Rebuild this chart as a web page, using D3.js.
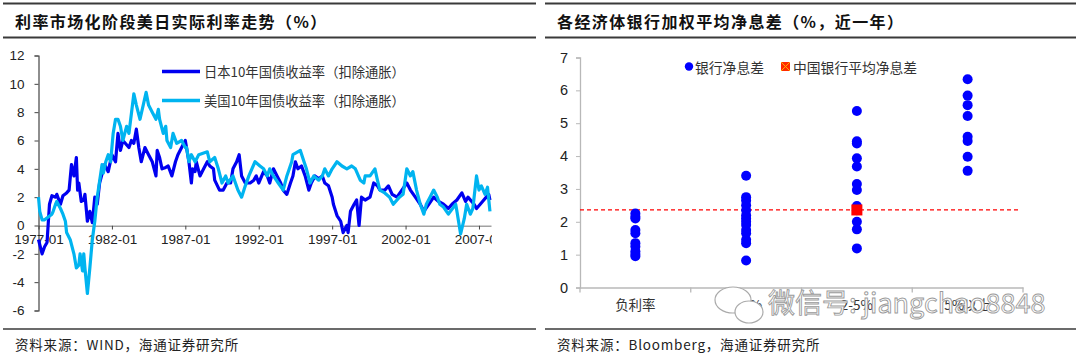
<!DOCTYPE html>
<html><head><meta charset="utf-8">
<script src="https://cdn.jsdelivr.net/npm/d3@7"></script>
<style>
body{margin:0;background:#fff;}
svg{display:block;}
</style>
</head><body>
<svg id="chart" width="1080" height="358"></svg>
<script>
// ---------- Left chart data ----------
const leftTitle = "利率市场化阶段美日实际利率走势（%）";
const leftSource = "资料来源：WIND，海通证券研究所";
const seriesNames = ["日本10年国债收益率（扣除通胀）", "美国10年国债收益率（扣除通胀）"];
const yTicksLeft = [-6,-4,-2,0,2,4,6,8,10,12];
const xTickLabels = ["1977-01","1982-01","1987-01","1992-01","1997-01","2002-01","2007-01"];

const jpDates = ["1977-01","1977-04","1977-06","1977-08","1977-10","1977-12","1978-03","1978-04","1978-07","1978-09","1978-12","1979-02","1979-04","1979-06","1979-08","1979-09","1979-10","1979-12","1980-02","1980-03","1980-05","1980-07","1980-09","1980-11","1981-01","1981-03","1981-07","1981-10","1982-01","1982-04","1982-06","1982-08","1982-10","1983-03","1983-05","1983-07","1983-09","1983-11","1984-01","1984-04","1984-07","1984-10","1985-01","1985-02","1985-04","1985-06","1985-09","1985-11","1986-02","1986-05","1986-07","1986-10","1987-01","1987-04","1987-06","1987-07","1987-09","1987-10","1988-01","1988-04","1988-07","1988-09","1988-12","1989-01","1989-05","1989-08","1989-11","1990-02","1990-04","1990-07","1990-09","1990-11","1991-02","1991-06","1991-09","1991-11","1992-01","1992-05","1992-08","1992-10","1993-01","1993-04","1993-07","1993-09","1993-12","1994-03","1994-05","1994-07","1994-09","1994-12","1995-03","1995-06","1995-08","1995-11","1996-02","1996-05","1996-07","1996-10","1997-01","1997-02","1997-05","1997-08","1997-10","1998-01","1998-02","1998-04","1998-07","1998-09","1998-11","1999-01","1999-04","1999-08","1999-11","2000-02","2000-04","2000-08","2000-11","2001-02","2001-06","2001-10","2002-02","2002-05","2002-09","2003-01","2003-04","2003-08","2003-12","2004-04","2004-08","2004-12","2005-03","2005-07","2005-11","2006-02","2006-04","2006-09","2006-11","2007-02","2007-05","2007-07","2007-09","2007-10"];
const jpValues = [-1.0,-2.0,-1.5,-1.2,1.5,2.1,2.0,2.2,1.5,2.1,2.3,2.5,4.3,3.5,4.8,2.5,3.0,1.7,1.8,2.2,0.3,1.0,0.2,2.0,1.5,3.0,4.3,3.8,5.0,4.5,6.5,5.3,6.0,5.5,6.0,5.8,6.8,5.5,4.5,5.5,5.0,4.5,3.5,5.3,4.8,4.0,4.1,4.2,3.5,4.5,5.0,5.5,6.0,4.5,3.0,4.0,3.8,4.5,3.5,4.0,4.5,4.2,4.0,3.2,2.5,2.5,3.0,3.0,4.0,4.5,5.0,3.5,3.0,3.0,3.2,3.5,3.0,3.8,3.5,3.0,4.0,3.5,3.0,2.5,2.2,3.0,3.5,4.5,4.0,4.2,3.5,2.5,3.0,3.5,3.3,3.5,3.0,2.8,2.0,1.5,0.7,0.3,-0.5,0.0,-0.5,1.0,1.5,1.8,0.0,2.0,1.8,2.0,3.0,2.8,2.5,2.5,2.8,2.2,2.0,2.5,3.0,2.5,2.0,1.5,1.0,1.5,2.0,1.7,1.5,1.2,1.5,1.8,2.3,1.7,2.0,1.5,1.2,1.5,1.8,2.0,2.2,1.8];

const usDates = ["1977-01","1977-02","1977-04","1977-06","1977-09","1977-12","1978-01","1978-03","1978-04","1978-07","1978-09","1978-11","1978-12","1979-03","1979-06","1979-08","1979-10","1979-11","1980-01","1980-02","1980-03","1980-05","1980-07","1980-09","1980-11","1981-01","1981-05","1981-06","1981-08","1981-10","1981-12","1982-02","1982-04","1982-06","1982-08","1982-10","1983-01","1983-03","1983-07","1983-09","1983-12","1984-05","1984-07","1984-10","1985-01","1985-03","1985-04","1985-07","1985-09","1985-10","1986-01","1986-03","1986-06","1986-10","1987-01","1987-02","1987-04","1987-06","1987-09","1987-12","1988-07","1988-09","1989-01","1989-04","1989-07","1989-10","1989-12","1990-04","1990-08","1990-11","1991-02","1991-05","1991-10","1992-02","1992-05","1992-08","1992-10","1993-01","1993-05","1993-09","1993-12","1994-04","1994-05","1994-11","1995-02","1995-04","1995-07","1995-10","1996-02","1996-05","1996-07","1996-10","1997-01","1997-05","1997-09","1998-01","1998-05","1998-08","1998-12","1999-03","1999-04","1999-08","1999-12","2000-02","2000-04","2000-08","2000-12","2001-03","2001-08","2001-11","2002-02","2002-05","2002-07","2002-10","2003-01","2003-04","2003-06","2003-09","2003-12","2004-03","2004-05","2004-08","2004-12","2005-06","2005-07","2005-10","2006-01","2006-03","2006-06","2006-08","2006-11","2007-01","2007-03","2007-06","2007-08","2007-10"];
const usValues = [2.0,1.0,0.4,0.4,0.6,0.8,1.0,1.5,1.7,1.2,0.8,0.3,-0.5,-1.0,-2.0,-3.0,-2.8,-2.0,-3.2,-2.0,-3.0,-4.8,-3.0,-1.0,0.3,2.0,4.3,3.7,4.5,5.0,4.5,6.5,7.5,7.5,7.0,6.0,7.0,6.5,9.3,8.5,7.5,9.4,8.5,8.0,7.5,8.2,7.5,6.5,7.0,6.0,5.5,6.5,5.8,6.0,5.5,5.5,4.5,5.0,4.5,5.0,5.2,4.5,4.8,4.0,3.0,3.5,3.0,3.5,2.5,2.0,2.8,3.5,4.5,4.2,4.0,3.5,4.0,3.5,3.0,2.5,3.5,4.5,5.0,5.3,4.5,4.0,3.0,3.5,3.2,3.5,4.0,3.5,4.0,4.5,4.2,4.0,4.2,4.0,3.2,3.0,3.5,3.5,4.0,3.2,2.5,2.3,2.0,1.5,2.0,2.2,4.0,3.5,3.8,2.5,1.5,0.8,1.5,2.0,2.5,2.0,1.5,1.3,0.8,1.5,1.0,-0.6,0.5,1.5,0.8,1.2,3.5,2.5,2.8,2.2,2.7,1.0];

// ---------- Right chart data ----------
const rightTitle = "各经济体银行加权平均净息差（%，近一年）";
const rightSource = "资料来源：Bloomberg，海通证券研究所";
const categories = ["负利率","0-2%","2-5%","5%以上"];
const nimNegative = [2.25,2.15,2.1,1.75,1.65,1.35,1.25,1.1,1.02,0.95];
const nimLow = [3.4,2.75,2.65,2.5,2.35,2.2,2.1,2.0,1.9,1.75,1.65,1.45,1.35,0.82];
const nimMid = [5.37,4.45,4.38,3.93,3.68,3.15,2.97,2.48,2.35,2.0,1.77,1.19];
const nimHigh = [6.34,5.84,5.55,5.22,4.59,4.46,3.98,3.55];
const chinaAvgNim = 2.36;
const chinaCategory = "2-5%";
const yTicksRight = [0,1,2,3,4,5,6,7];
const legendRight = ["银行净息差","中国银行平均净息差"];
const watermark = "微信号: jiangchao8848";

const svg = d3.select("#chart");
const cjk = "'Noto Sans CJK SC', sans-serif";
const latin = "'Liberation Sans', Arial, sans-serif";

// ---------- Panel frames ----------
function frame(x0, x1, title, source){
  svg.append("line").attr("x1",x0).attr("x2",x1).attr("y1",3.5).attr("y2",3.5).attr("stroke","#3a3a3a").attr("stroke-width",2);
  svg.append("line").attr("x1",x0).attr("x2",x1).attr("y1",37.5).attr("y2",37.5).attr("stroke","#3a3a3a").attr("stroke-width",2);
  svg.append("line").attr("x1",x0).attr("x2",x1).attr("y1",329).attr("y2",329).attr("stroke","#3a3a3a").attr("stroke-width",1.5);
  svg.append("text").attr("x",x0+12).attr("y",20.5).attr("dominant-baseline","central")
    .attr("font-family",cjk).attr("font-weight","bold").attr("font-size",16).attr("letter-spacing",1.4)
    .attr("fill","#111").text(title);
  svg.append("text").attr("x",x0+12).attr("y",343.5).attr("dominant-baseline","central")
    .attr("font-family",cjk).attr("font-size",13.5).attr("letter-spacing",0.8)
    .attr("fill","#222").text(source);
}
frame(3, 536, leftTitle, leftSource);
frame(545, 1076, rightTitle, rightSource);

// ---------- Left chart ----------
const parse = d3.timeParse("%Y-%m");
const xL = d3.scaleTime().domain([parse("1977-01"), new Date(2007,9,27)]).range([38.5, 491]);
const yL = d3.scaleLinear().domain([-6,12]).range([310.5, 55.5]);

const gL = svg.append("g");
const yAxisL = d3.axisLeft(yL).tickValues(yTicksLeft).tickSize(4).tickFormat(d=>d);
const gy = gL.append("g").attr("transform","translate(38.5,0)").call(yAxisL);
gy.select(".domain").attr("stroke","#444").attr("stroke-width",1.2);
gy.selectAll(".tick line").attr("stroke","#444");
gy.selectAll(".tick text").attr("font-family",latin).attr("font-size",13.5).attr("fill","#222").attr("x",-14);

svg.append("defs").append("clipPath").attr("id","clipX").append("rect").attr("x",0).attr("y",0).attr("width",492).attr("height",358);
const xAxisL = d3.axisBottom(xL).tickValues(xTickLabels.map(parse)).tickSize(4).tickSizeOuter(0).tickFormat(d3.timeFormat("%Y-%m"));
const gx = gL.append("g").attr("transform",`translate(0,${yL(0)})`).attr("clip-path","url(#clipX)").call(xAxisL);
gx.select(".domain").attr("stroke","#444").attr("stroke-width",1.2);
gx.selectAll(".tick line").attr("stroke","#444");
gx.selectAll(".tick text").attr("font-family",latin).attr("font-size",13.5).attr("fill","#222").attr("y",9);

const line = d3.line().x(d=>xL(d[0])).y(d=>yL(d[1]));
const jp = jpDates.map((d,i)=>[parse(d), jpValues[i]]);
const us = usDates.map((d,i)=>[parse(d), usValues[i]]);
gL.append("path").datum(jp).attr("d",line).attr("fill","none").attr("stroke","#0000F0").attr("stroke-width",3.2).attr("stroke-linejoin","round");
gL.append("path").datum(us).attr("d",line).attr("fill","none").attr("stroke","#00B4F0").attr("stroke-width",3.2).attr("stroke-linejoin","round");

const legColors = ["#0000F0","#00B4F0"];
seriesNames.forEach((n,i)=>{
  const y = 71.5 + i*29;
  gL.append("line").attr("x1",162).attr("x2",200).attr("y1",y).attr("y2",y).attr("stroke",legColors[i]).attr("stroke-width",3.5);
  gL.append("text").attr("x",204).attr("y",y).attr("dominant-baseline","central")
    .attr("font-family",cjk).attr("font-size",13.3).attr("fill","#333").text(n);
});

// ---------- Right chart ----------
const xR = d3.scaleBand().domain(categories).range([580, 1023]);
const yR = d3.scaleLinear().domain([0,7]).range([287.5, 57.5]);
const gR = svg.append("g");
const yAxisR = d3.axisLeft(yR).tickValues(yTicksRight).tickSize(4).tickFormat(d=>d);
const gyR = gR.append("g").attr("transform","translate(580,0)").call(yAxisR);
gyR.select(".domain").attr("stroke","#b8b8b8").attr("stroke-width",1.3);
gyR.selectAll(".tick line").attr("stroke","#b8b8b8");
gyR.selectAll(".tick text").attr("font-family",latin).attr("font-size",14.5).attr("fill","#222").attr("x",-12);

const xAxisR = d3.axisBottom(xR).tickSize(0).tickSizeOuter(0);
const gxR = gR.append("g").attr("transform","translate(0,287.5)").call(xAxisR);
gxR.select(".domain").attr("stroke","#b8b8b8").attr("stroke-width",1.3);
gxR.selectAll(".tick text").attr("font-family",cjk).attr("font-size",13.5).attr("fill","#333").attr("y",13);
gxR.selectAll(".bound").data(categories).enter().append("line").attr("class","bound")
  .attr("x1",d=>xR(d)+xR.bandwidth()).attr("x2",d=>xR(d)+xR.bandwidth()).attr("y1",0).attr("y2",5)
  .attr("stroke","#b8b8b8").attr("stroke-width",1.3);
gxR.append("line").attr("x1",580).attr("x2",580).attr("y1",0).attr("y2",5).attr("stroke","#b8b8b8").attr("stroke-width",1.3);

gR.append("line").attr("x1",580).attr("x2",1018).attr("y1",yR(chinaAvgNim)).attr("y2",yR(chinaAvgNim))
  .attr("stroke","#ff0000").attr("stroke-width",1.2).attr("stroke-dasharray","4,3");

const groups = [nimNegative, nimLow, nimMid, nimHigh];
groups.forEach((vals, gi)=>{
  gR.selectAll(null).data(vals).enter().append("circle")
    .attr("cx", xR(categories[gi]) + xR.bandwidth()/2).attr("cy", d=>yR(d)).attr("r",5)
    .attr("fill","#0000FF");
});
gR.append("rect").attr("x",xR(chinaCategory)+xR.bandwidth()/2-5.5).attr("y",yR(chinaAvgNim)-5.5)
  .attr("width",11).attr("height",11).attr("fill","#ff0000");

gR.append("circle").attr("cx",689).attr("cy",66.5).attr("r",4.2).attr("fill","#0000FF");
gR.append("text").attr("x",695).attr("y",66.5).attr("dominant-baseline","central").attr("font-family",cjk).attr("font-size",13.8).attr("fill","#333").text(legendRight[0]);
gR.append("rect").attr("x",781).attr("y",62).attr("width",9).attr("height",9).attr("fill","#ff2a00");
gR.append("path").attr("d","M781,62L790,71M790,62L781,71").attr("stroke","#ffb000").attr("stroke-width",1);
gR.append("text").attr("x",793).attr("y",66.5).attr("dominant-baseline","central").attr("font-family",cjk).attr("font-size",13.8).attr("fill","#333").text(legendRight[1]);

// watermark overlay
const wm = svg.append("g");
wm.append("ellipse").attr("cx",733).attr("cy",300).attr("rx",18).attr("ry",13).attr("fill","#fff").attr("stroke","#aaa").attr("stroke-width",1.2);
wm.append("ellipse").attr("cx",749).attr("cy",312).attr("rx",14).attr("ry",11).attr("fill","#fff").attr("stroke","#aaa").attr("stroke-width",1.2);
wm.append("text").attr("x",768).attr("y",301).attr("dominant-baseline","central").attr("font-family",cjk).attr("font-size",27)
  .attr("fill","#fff").attr("stroke","#9a9a9a").attr("stroke-width",0.9).text(watermark);
</script>
</body></html>
